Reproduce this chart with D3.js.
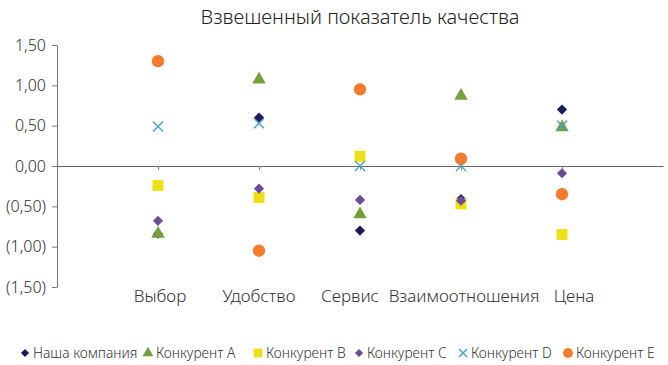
<!DOCTYPE html>
<html>
<head>
<meta charset="utf-8">
<script src="https://cdn.jsdelivr.net/npm/d3@7"></script>
<style>
body { margin: 0; background: #fff; }
svg { font-family: "Noto Sans", sans-serif; font-weight: 300; }
</style>
</head>
<body>
<svg id="chart" width="668" height="365"></svg>
<script>
// categories and series
let categories = ["Выбор", "Удобство", "Сервис", "Взаимоотношения", "Цена"];
let ourCompany = [-0.84, 0.60, -0.80, -0.41, 0.70];
let compA = [-0.84, 1.07, -0.60, 0.87, 0.48];
let compB = [-0.24, -0.39, 0.12, -0.47, -0.85];
let compC = [-0.68, -0.28, -0.42, -0.43, -0.09];
let compD = [0.49, 0.53, 0.00, 0.00, 0.50];
let compE = [1.30, -1.05, 0.95, 0.09, -0.35];
let yTicks = [1.5, 1.0, 0.5, 0, -0.5, -1.0, -1.5];
// labels are nudged sideways so the long one fits
let labelShift = [2, 0, -10, 3, 12];

let series = [
    {name: "Наша компания", values: ourCompany, color: "#1b1a5e", shape: "diamond"},
    {name: "Конкурент A", values: compA, color: "#76a03c", shape: "triangle"},
    {name: "Конкурент B", values: compB, color: "#efe014", shape: "square"},
    {name: "Конкурент C", values: compC, color: "#6a4c99", shape: "diamond"},
    {name: "Конкурент D", values: compD, color: "#46a2c2", shape: "cross"},
    {name: "Конкурент E", values: compE, color: "#f47b2e", shape: "circle"},
];

let svg = d3.select("#chart");
let margin = {top: 45, right: 5, bottom: 78, left: 57};
let width = 668, height = 365;

let x = d3.scaleLinear()
    .domain([0, categories.length + 1])
    .range([margin.left, width - margin.right]);
let y = d3.scaleLinear()
    .domain([-1.5, 1.5])
    .range([height - margin.bottom, margin.top]);

function fmt(v) {
    let s = d3.format(".2f")(Math.abs(v)).replace(".", ",");
    return v < 0 ? `(${s})` : s;
}

// title
svg.append("text")
    .attr("x", 360)
    .attr("y", 24)
    .attr("text-anchor", "middle")
    .style("font-size", "20px")
    .style("fill", "#222")
    .text("Взвешенный показатель качества");

// y axis
let yAxis = svg.append("g")
    .attr("transform", `translate(${margin.left}, 0)`)
    .call(d3.axisLeft(y).tickValues(yTicks).tickFormat(fmt).tickSize(5).tickSizeOuter(0));
yAxis.select(".domain").attr("stroke", "#777");
yAxis.selectAll(".tick line").attr("stroke", "#777");
yAxis.selectAll(".tick text")
    .attr("x", -11)
    .style("font-size", "16px")
    .style("font-family", "'Noto Sans', sans-serif")
    .style("font-weight", 300)
    .style("fill", "#333");

// zero line with category ticks
let xAxis = svg.append("g")
    .attr("transform", `translate(0, ${y(0)})`)
    .call(d3.axisBottom(x).tickValues(d3.range(1, categories.length + 1)).tickFormat("").tickSize(4).tickSizeOuter(0));
xAxis.select(".domain").attr("stroke", "#666");
xAxis.selectAll(".tick line").attr("stroke", "#888");

// category labels
svg.append("g").selectAll("text")
    .data(categories)
    .join("text")
    .attr("x", (d, i) => x(i + 1) + labelShift[i])
    .attr("y", 302)
    .attr("text-anchor", "middle")
    .style("font-size", "17px")
    .style("fill", "#333")
    .text(d => d);

let symbolTypes = {
    diamond: d3.symbolSquare,
    triangle: d3.symbolTriangle,
    square: d3.symbolSquare,
    circle: d3.symbolCircle,
};
let symbolSizes = {diamond: 52, triangle: 80, square: 120, circle: 120};

function drawMark(g, s, cx, cy, scale) {
    if (s.shape == "cross") {
        let r = 5 * scale;
        g.append("path")
            .attr("d", `M${cx - r},${cy - r}L${cx + r},${cy + r}M${cx - r},${cy + r}L${cx + r},${cy - r}`)
            .attr("stroke", s.color)
            .attr("stroke-width", 1.4)
            .attr("fill", "none");
    } else {
        let sym = d3.symbol().type(symbolTypes[s.shape]).size(symbolSizes[s.shape] * scale * scale);
        let rot = s.shape == "diamond" ? " rotate(45)" : "";
        g.append("path")
            .attr("transform", `translate(${cx}, ${cy})${rot}`)
            .attr("d", sym())
            .attr("fill", s.color);
    }
}

// points
let pts = svg.append("g");
for (let s of series) {
    s.values.forEach((v, i) => drawMark(pts, s, x(i + 1), y(v), 1));
}

// legend
let legendX = [25, 148, 258, 359, 463, 568];
let legend = svg.append("g");
series.forEach((s, i) => {
    drawMark(legend, s, legendX[i], 353, 0.8);
    legend.append("text")
        .attr("x", legendX[i] + 8)
        .attr("y", 353)
        .attr("dy", "0.35em")
        .style("font-size", "13.8px")
        .style("fill", "#333")
        .text(s.name);
});
</script>
</body>
</html>
